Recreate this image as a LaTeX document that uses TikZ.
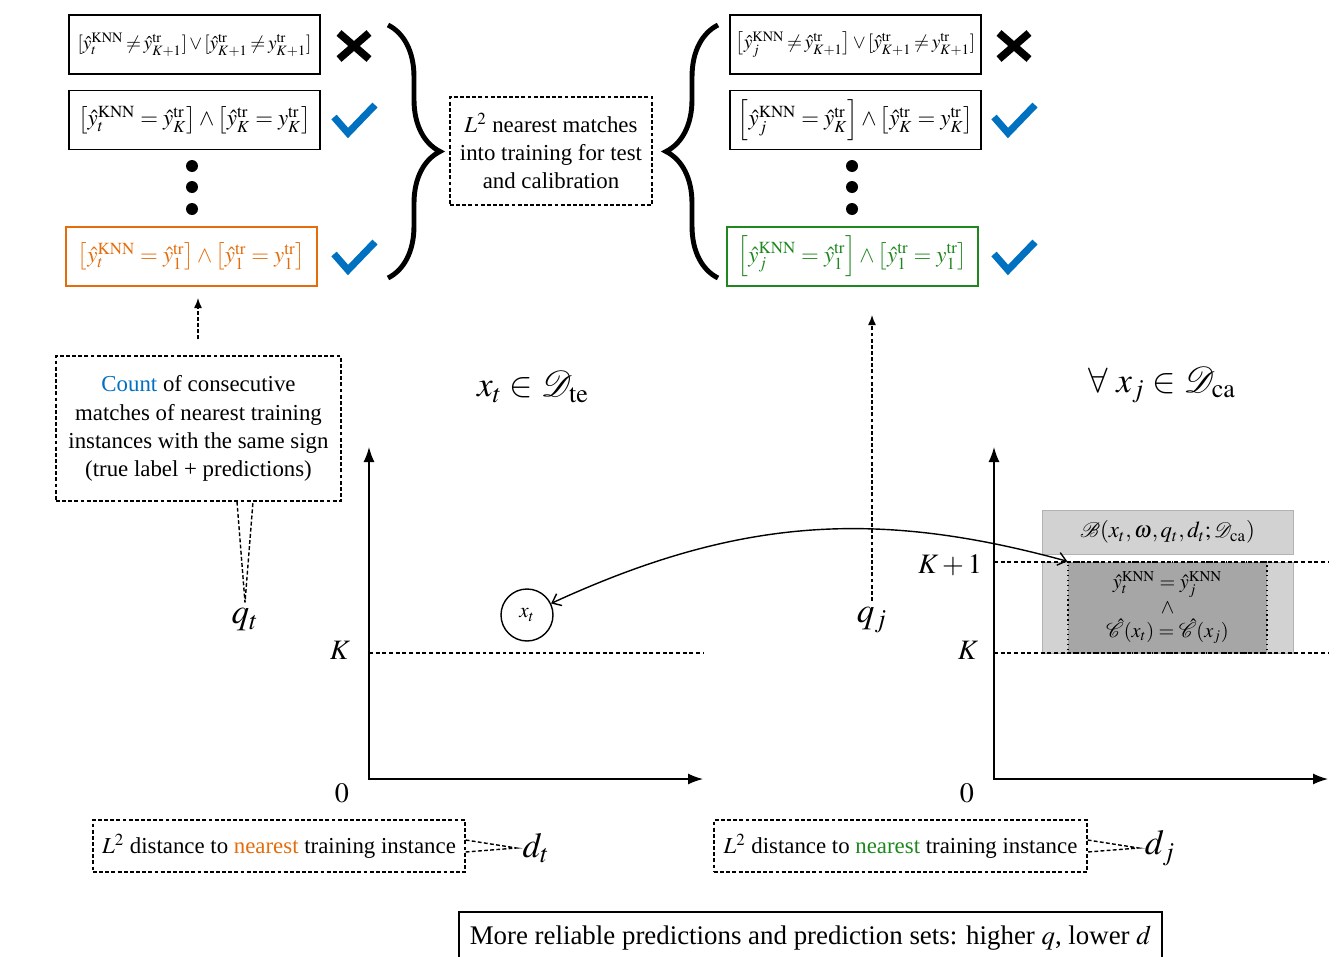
\documentclass[tikz,border=0pt]{standalone}
\usepackage{mathptmx}
\usepackage{mathrsfs}
\usepackage{fontspec}
\setmainfont{Liberation Serif}
\usetikzlibrary{arrows.meta,decorations.pathreplacing,calc}

\definecolor{tickblue}{RGB}{0,112,192}
\definecolor{matchorange}{RGB}{228,108,10}
\definecolor{matchgreen}{RGB}{30,135,30}

\newcommand{\tightspacing}{\thickmuskip=2.5mu\relax\medmuskip=2mu\relax}

\tikzset{
  condbox/.style={draw, line width=1.1pt, minimum width=5.02cm, minimum height=1.18cm, inner sep=0pt, font=\fontsize{13}{15}\selectfont},
  tightbox/.style={condbox, font=\fontsize{11}{14}\selectfont\tightspacing},
  vdot/.style={circle, fill, inner sep=0pt, minimum size=0.24cm},
  dashbox/.style={draw, dash pattern=on 2.2pt off 1.3pt, line width=0.8pt, align=center, inner sep=0pt, font=\fontsize{13}{16}\selectfont},
  pointer/.style={dash pattern=on 2.2pt off 1.3pt, line width=0.8pt},
  klevel/.style={dash pattern=on 2.2pt off 1.6pt, line width=0.7pt},
  axisline/.style={line width=0.8pt},
  bigmath/.style={font=\fontsize{20}{24}\selectfont},
  axlabel/.style={font=\fontsize{16}{19}\selectfont},
  curly/.style={decorate, decoration={brace, amplitude=1.04cm}, line width=2.8pt},
  okmark/.pic={\draw[line width=4pt, tickblue] (-20,-3) -- (-6,13) -- (21,-15);},
  nomark/.pic={\draw[line width=4.3pt] (-15,-13) -- (15,13) (-15,13) -- (15,-13);}
}

\begin{document}
\begin{tikzpicture}[x=0.02cm, y=-0.02cm, >={Latex[length=2mm,width=1.6mm]}]
  \useasboundingbox (0,0) rectangle (1343,957);
  % test side: matches into training
  \node[tightbox] (l1) at (194.5,44.5) {$[\hat{y}_t^{\mathrm{KNN}} \neq \hat{y}^{\mathrm{tr}}_{K+1}] \vee [\hat{y}^{\mathrm{tr}}_{K+1} \neq y^{\mathrm{tr}}_{K+1}]$};
  \node[condbox] (l2) at (194.5,120) {$\bigl[\hat{y}_t^{\mathrm{KNN}} = \hat{y}^{\mathrm{tr}}_{K}\bigr] \wedge \bigl[\hat{y}^{\mathrm{tr}}_{K} = y^{\mathrm{tr}}_{K}\bigr]$};
  \node[condbox, draw=matchorange, text=matchorange] (l3) at (191.5,256.5) {$\bigl[\hat{y}_t^{\mathrm{KNN}} = \hat{y}^{\mathrm{tr}}_{1}\bigr] \wedge \bigl[\hat{y}^{\mathrm{tr}}_{1} = y^{\mathrm{tr}}_{1}\bigr]$};
  % calibration side
  \node[tightbox] (r1) at (855.5,44.5) {$\bigl[\hat{y}_j^{\mathrm{KNN}} \neq \hat{y}^{\mathrm{tr}}_{K+1}\bigr] \vee [\hat{y}^{\mathrm{tr}}_{K+1} \neq y^{\mathrm{tr}}_{K+1}]$};
  \node[condbox] (r2) at (855.5,120) {$\Bigl[\hat{y}_j^{\mathrm{KNN}} = \hat{y}^{\mathrm{tr}}_{K}\Bigr] \wedge \bigl[\hat{y}^{\mathrm{tr}}_{K} = y^{\mathrm{tr}}_{K}\bigr]$};
  \node[condbox, draw=matchgreen, text=matchgreen] (r3) at (852.5,256.5) {$\Bigl[\hat{y}_j^{\mathrm{KNN}} = \hat{y}^{\mathrm{tr}}_{1}\Bigr] \wedge \bigl[\hat{y}^{\mathrm{tr}}_{1} = y^{\mathrm{tr}}_{1}\bigr]$};
  \foreach \y in {166,187,209} {
    \node[vdot] (ldot\y) at (192,\y) {};
    \node[vdot] (rdot\y) at (852,\y) {};
  }
  \pic at (354,46) {nomark};
  \pic at (354,120) {okmark};
  \pic at (354,257) {okmark};
  \pic at (1014,46) {nomark};
  \pic at (1014,120) {okmark};
  \pic at (1014,257) {okmark};
  \draw[curly] (388,25) -- (388,278);
  \draw[curly] (718,278) -- (718,25);
  \node[dashbox, minimum width=4.04cm, minimum height=2.16cm] (mid) at (551,151) {$L^2$ nearest matches\\into training for test\\and calibration};

  % count callout
  \node[dashbox, minimum width=5.7cm, minimum height=2.9cm] (count) at (198.5,428.5) {{\color{tickblue}Count} of consecutive\\matches of nearest training\\instances with the same sign\\(true label + predictions)};
  \node[bigmath] (qt) at (245,620) {$q_t$};
  \draw[pointer] ($(qt.north |- count.south)+(-8,0)$) -- (qt.north) -- ($(qt.north |- count.south)+(8,0)$);
  \coordinate (qttop) at (198,298);
  \draw[pointer, ->, shorten <=0.32cm] (count.north -| qttop) -- (qttop);

  % test plot
  \node[bigmath] (te) at (533,387) {$x_t \in \mathscr{D}_{\mathrm{te}}$};
  \coordinate (lo) at (369,779);
  \coordinate (ly) at (369,447);
  \coordinate (lx) at (703,779);
  \draw[axisline, {Latex[length=3mm,width=2.2mm]}-{Latex[length=3mm,width=2.2mm]}] (ly) -- (lo) -- (lx);
  \coordinate (lk) at (369,653);
  \coordinate (lke) at (703,653);
  \draw[klevel] (lk) -- (lke);
  \node[axlabel] (lK) at (340,650) {$K$};
  \node[axlabel] (l0) at (342,793) {$0$};
  \node[circle, draw, line width=0.8pt, minimum size=1.04cm, inner sep=0pt, font=\fontsize{12}{14}\selectfont] (xt) at (527,615) {$x_t$};

  % calibration plot
  \node[bigmath] (ca) at (1162,385) {$\forall\ x_j \in \mathscr{D}_{\mathrm{ca}}$};
  \coordinate (ro) at (994,779);
  \coordinate (ry) at (994,447);
  \coordinate (rx) at (1328,779);
  \node[draw=gray!60, fill=gray!35, minimum width=5.02cm, minimum height=1.82cm] (band) at (1167.5,607.5) {};
  \node[draw, dotted, line width=0.8pt, fill=gray!70, minimum width=3.98cm, minimum height=1.82cm, inner sep=0pt, align=center, font=\fontsize{11.5}{14}\selectfont] (agree) at (1167.5,607.5) {$\hat{y}_t^{\mathrm{KNN}} = \hat{y}_j^{\mathrm{KNN}}$\\$\wedge$\\$\hat{\mathscr{C}}(x_t) = \hat{\mathscr{C}}(x_j)$};
  \node[draw=gray!60, fill=gray!35, minimum width=5.02cm, minimum height=0.88cm, font=\fontsize{13}{15}\selectfont] (bset) at (1167.5,532) {$\mathscr{B}(x_t, \omega, q_t, d_t; \mathscr{D}_{\mathrm{ca}})$};
  \draw[axisline, {Latex[length=3mm,width=2.2mm]}-{Latex[length=3mm,width=2.2mm]}] (ry) -- (ro) -- (rx);
  \coordinate (rk1) at (994,562);
  \coordinate (rk1e) at (1328,562);
  \coordinate (rk) at (994,653);
  \coordinate (rke) at (1328,653);
  \draw[klevel] (rk1) -- (rk1e);
  \draw[klevel] (rk) -- (rke);
  \node[axlabel] (rK1) at (950,565) {$K+1$};
  \node[axlabel] (rK) at (968,650) {$K$};
  \node[axlabel] (r0) at (967,793) {$0$};
  \node[bigmath] (qj) at (872,620) {$q_j$};
  \coordinate (qjtop) at (872,315);
  \draw[pointer, ->] (qj.north) -- (qjtop);
  \draw[line width=0.8pt, {Straight Barb[length=1.6mm,width=2.6mm]}-{Straight Barb[length=1.6mm,width=2.6mm]}] (xt) to[bend left=20] (agree.north west);

  % distances
  \node[dashbox, minimum width=7.44cm, minimum height=1.04cm] (dtbox) at (279,846) {$L^2$ distance to {\color{matchorange}nearest} training instance};
  \node[bigmath] (dt) at (536,848) {$d_t$};
  \draw[pointer] ([yshift=0.12cm]dtbox.east) -- (dt.west) -- ([yshift=-0.12cm]dtbox.east);
  \node[dashbox, minimum width=7.46cm, minimum height=1.04cm] (djbox) at (900.5,846) {$L^2$ distance to {\color{matchgreen}nearest} training instance};
  \node[bigmath] (dj) at (1160,848) {$d_j$};
  \draw[pointer] ([yshift=0.12cm]djbox.east) -- (dj.west) -- ([yshift=-0.12cm]djbox.east);

  \node[draw, line width=0.8pt, minimum width=14.06cm, minimum height=1.04cm, font=\fontsize{15.3}{18}\selectfont] (concl) at (810.5,938) {More reliable predictions and prediction sets: higher $q$, lower $d$};
\end{tikzpicture}
\end{document}
